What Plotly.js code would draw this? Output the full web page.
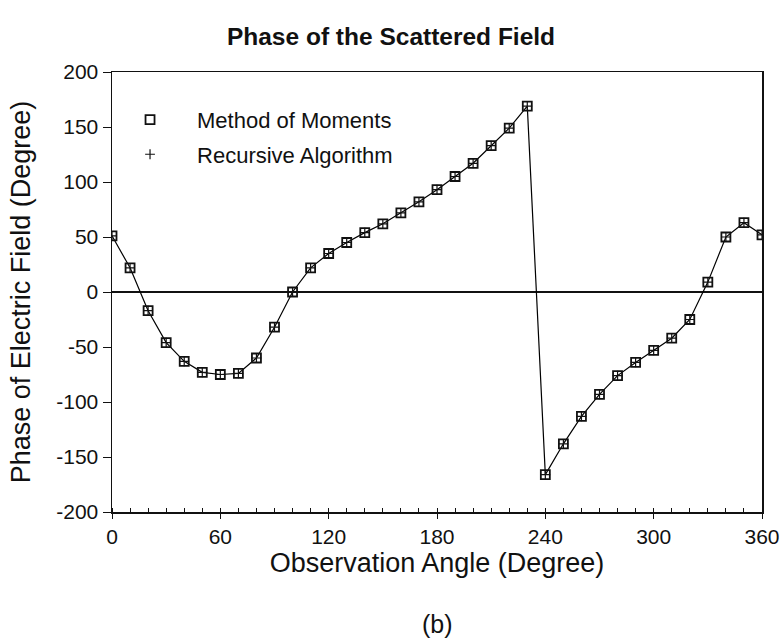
<!DOCTYPE html>
<html>
<head>
<meta charset="utf-8">
<script src="https://cdn.plot.ly/plotly-3.0.1.min.js"></script>
<style>html,body{margin:0;padding:0;background:#fff;}#chart{width:782px;height:643px;}</style>
</head>
<body>
<div id="chart"></div>
<script>
const angles = [0,10,20,30,40,50,60,70,80,90,100,110,120,130,140,150,160,170,180,190,200,210,220,230,240,250,260,270,280,290,300,310,320,330,340,350,360];
const momPhase = [51,22,-17,-46,-63,-73,-75,-74,-60,-32,0,22,35,45,54,62,72,82,93,105,117,133,149,169,-166,-138,-113,-93,-76,-64,-53,-42,-25,9,50,63,52];
const recPhase = [51,22,-17,-46,-63,-73,-75,-74,-60,-32,0,22,35,45,54,62,72,82,93,105,117,133,149,169,-166,-138,-113,-93,-76,-64,-53,-42,-25,9,50,63,52];
const xTicks = [0,60,120,180,240,300,360];
const yTicks = [-200,-150,-100,-50,0,50,100,150,200];

const traces = [
  {x: angles, y: momPhase, mode: 'lines', line: {color: '#000', width: 1.2}, showlegend: false, hoverinfo: 'skip'},
  {x: angles, y: momPhase, mode: 'markers', name: 'Method of Moments', legendgroup: 'a',
   marker: {symbol: 'square-open', size: 9, color: '#111', line: {width: 1.8, color: '#222'}}},
  {x: angles, y: recPhase, mode: 'markers', name: 'Recursive Algorithm', legendgroup: 'b',
   marker: {symbol: 'cross-thin-open', size: 7, color: '#111', line: {width: 1.2, color: '#111'}}}
];

const layout = {
  width: 782, height: 643,
  paper_bgcolor: '#fff', plot_bgcolor: '#fff',
  margin: {l: 112, r: 20, t: 72, b: 131},
  font: {family: 'Liberation Sans, Arial, sans-serif', color: '#111'},
  title: {text: '<b>Phase of the Scattered Field</b>', font: {size: 24.5}, x: 0.5, xanchor: 'center', y: 0.943, yanchor: 'middle'},
  showlegend: true,
  legend: {x: -0.0138, y: 0.939, xanchor: 'left', yanchor: 'top', bgcolor: 'rgba(0,0,0,0)', font: {size: 22},
           traceorder: 'grouped', tracegroupgap: 3, itemwidth: 84},
  xaxis: {
    range: [0, 360], tickvals: xTicks, ticktext: xTicks.map(String),
    ticks: 'outside', ticklen: 5, tickcolor: '#111', tickfont: {size: 21},
    showline: true, linecolor: '#111', linewidth: 1.5, mirror: true, showgrid: false, zeroline: false,
    minor: {dtick: 10, ticks: 'inside', ticklen: 4, tickcolor: '#111'},
    title: {text: 'Observation Angle (Degree)', font: {size: 27}, standoff: 6}
  },
  yaxis: {
    range: [-200, 200], tickvals: yTicks, ticktext: yTicks.map(String),
    ticks: 'outside', ticklen: 8, tickcolor: '#111', tickfont: {size: 21},
    showline: true, linecolor: '#111', linewidth: 1.5, mirror: true, showgrid: false,
    zeroline: true, zerolinecolor: '#111', zerolinewidth: 1.5,
    title: {text: 'Phase of Electric Field (Degree)', font: {size: 27}, standoff: 18}
  },
  annotations: [
    {text: '(b)', xref: 'paper', yref: 'paper', x: 0.5, y: -0.2545, xanchor: 'center', yanchor: 'middle', showarrow: false, font: {size: 25}}
  ]
};

Plotly.newPlot('chart', traces, layout, {displayModeBar: false, staticPlot: true});
</script>
</body>
</html>
